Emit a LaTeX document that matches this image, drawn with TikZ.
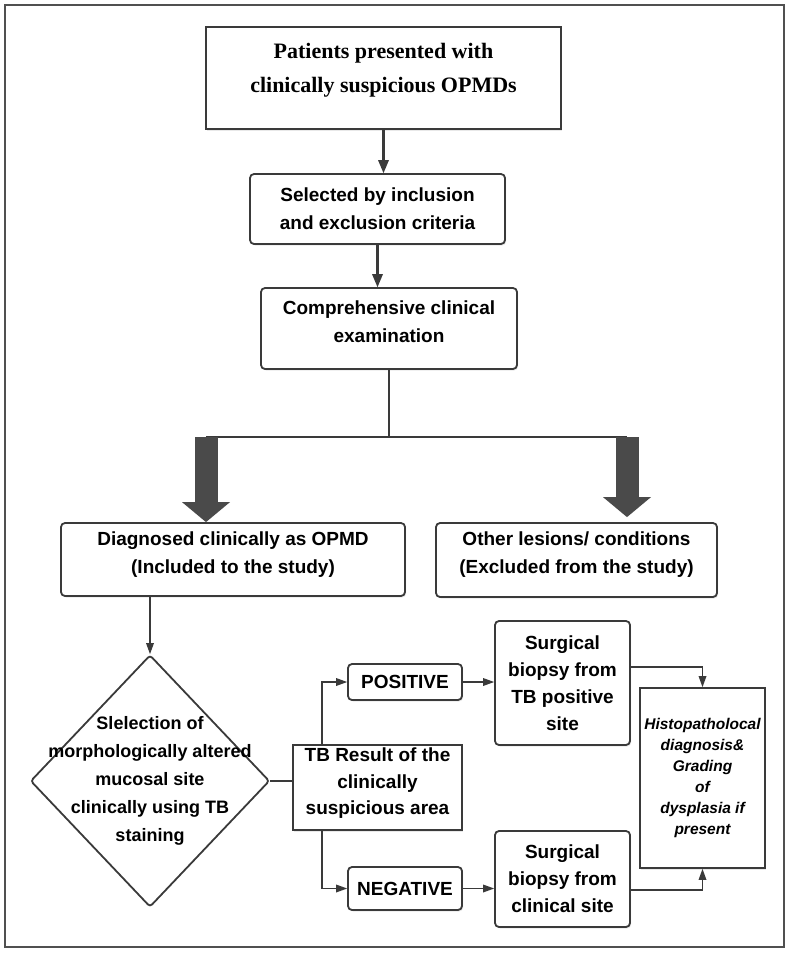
\documentclass[tikz,border=0pt]{standalone}
\usepackage{fontspec}
\setmainfont{Liberation Sans}
\newfontfamily\timesbf{Liberation Serif}
\usetikzlibrary{arrows.meta,shapes.geometric,shadows}

\definecolor{linegray}{HTML}{3A3A3A}
\definecolor{arrowgray}{HTML}{4A4A4A}
\definecolor{framegray}{HTML}{505050}

\tikzset{
  box/.style={draw=linegray, line width=1.8pt, rounded corners=4pt, fill=white,
    align=center, inner sep=0pt,
    drop shadow={shadow xshift=1.2pt, shadow yshift=-1.5pt, opacity=0.18},
    font=\bfseries\fontsize{19}{28}\selectfont},
  sqbox/.style={box, rounded corners=0pt},
  decision/.style={diamond, draw=linegray, line width=1.8pt, rounded corners=3pt,
    fill=white, inner sep=0pt, minimum width=239pt, minimum height=252pt},
  conn/.style={draw=linegray, line width=1.8pt},
  arr/.style={conn, -{Triangle[length=11pt,width=8pt,line width=0pt]}},
  bigarr/.style={conn, line width=3pt, -{Triangle[length=13pt,width=11pt,line width=0pt]}},
  fatarr/.style={draw=arrowgray, line width=23pt, -{Triangle[length=20pt,width=48pt,line width=0pt]}},
}

\begin{document}
\begin{tikzpicture}[x=1pt, y=-1pt]
\useasboundingbox (0,0) rectangle (790,953);
\draw[framegray, line width=1.6pt] (5,5) rectangle (784,947);

% top of the chart
\node[sqbox, minimum width=355pt, minimum height=102pt, text depth=20pt,
  font=\timesbf\bfseries\fontsize{22}{34}\selectfont] (patients) at (383.5,78)
  {Patients presented with\\clinically suspicious OPMDs};
\node[box, minimum width=255pt, minimum height=70pt] (selected) at (377.5,209)
  {Selected by inclusion\\and exclusion criteria};
\node[box, minimum width=256pt, minimum height=81pt, text depth=14pt] (exam) at (389,328.5)
  {Comprehensive clinical\\examination};

\coordinate (jl) at (206,437);
\coordinate (jr) at (627,437);

\node[box, minimum width=344pt, minimum height=73pt, text depth=14pt] (included) at (233,559.5)
  {Diagnosed clinically as OPMD\\(Included to the study)};
\node[box, minimum width=281pt, minimum height=74pt, text depth=14pt] (excluded) at (576.5,560)
  {Other lesions/ conditions\\(Excluded from the study)};

% TB staining part
\node[decision] (staining) at (150,781) {};
\node[align=center, inner sep=0pt, font=\bfseries\fontsize{18}{28}\selectfont] (stainingtext) at (staining.center)
  {Slelection of\\morphologically altered\\mucosal site\\clinically using TB\\staining};
\node[sqbox, minimum width=169pt, minimum height=85pt, text depth=12pt,
  font=\bfseries\fontsize{19}{26.5}\selectfont] (tbresult) at (377.5,787.5)
  {TB Result of the\\clinically\\suspicious area};
\node[box, minimum width=114pt, minimum height=36pt] (positive) at (405,682) {POSITIVE};
\node[box, minimum width=114pt, minimum height=43pt] (negative) at (405,888.5) {NEGATIVE};
\node[box, minimum width=135pt, minimum height=124pt,
  font=\bfseries\fontsize{19}{27}\selectfont] (biopsypos) at (562.5,683)
  {Surgical\\biopsy from\\TB positive\\site};
\node[box, minimum width=135pt, minimum height=96pt,
  font=\bfseries\fontsize{19}{27}\selectfont] (biopsyneg) at (562.5,879)
  {Surgical\\biopsy from\\clinical site};
\node[sqbox, minimum width=125pt, minimum height=180pt,
  font=\bfseries\itshape\fontsize{15.5}{21}\selectfont] (histo) at (702.5,778)
  {Histopatholocal\\diagnosis\&\\Grading\\of\\dysplasia if\\present};

% connectors
\draw[bigarr] (patients.south) -- (patients.south |- selected.north);
\draw[bigarr] (selected.south) -- (selected.south |- exam.north);
\draw[conn] (exam.south) -- (exam.south |- jl);
\draw[conn] (jl) -- (jr);
\draw[fatarr] (jl) -- (jl |- included.north);
\draw[fatarr, shorten >=5pt] (jr) -- (jr |- excluded.north);

\draw[arr] (included.south -| staining.north) -- (staining.north);
\draw[conn] (staining.east) -- (staining.east -| tbresult.west);
\draw[arr] ([xshift=-55.5pt]tbresult.north) |- (positive.west);
\draw[arr] ([xshift=-55.5pt]tbresult.south) |- (negative.west);
\draw[arr] (positive.east) -- (positive.east -| biopsypos.west);
\draw[arr] (negative.east) -- (negative.east -| biopsyneg.west);
\draw[arr] ([yshift=16pt]biopsypos.east) -| (histo.north);
\draw[arr] ([yshift=-11pt]biopsyneg.east) -| (histo.south);
\end{tikzpicture}
\end{document}
